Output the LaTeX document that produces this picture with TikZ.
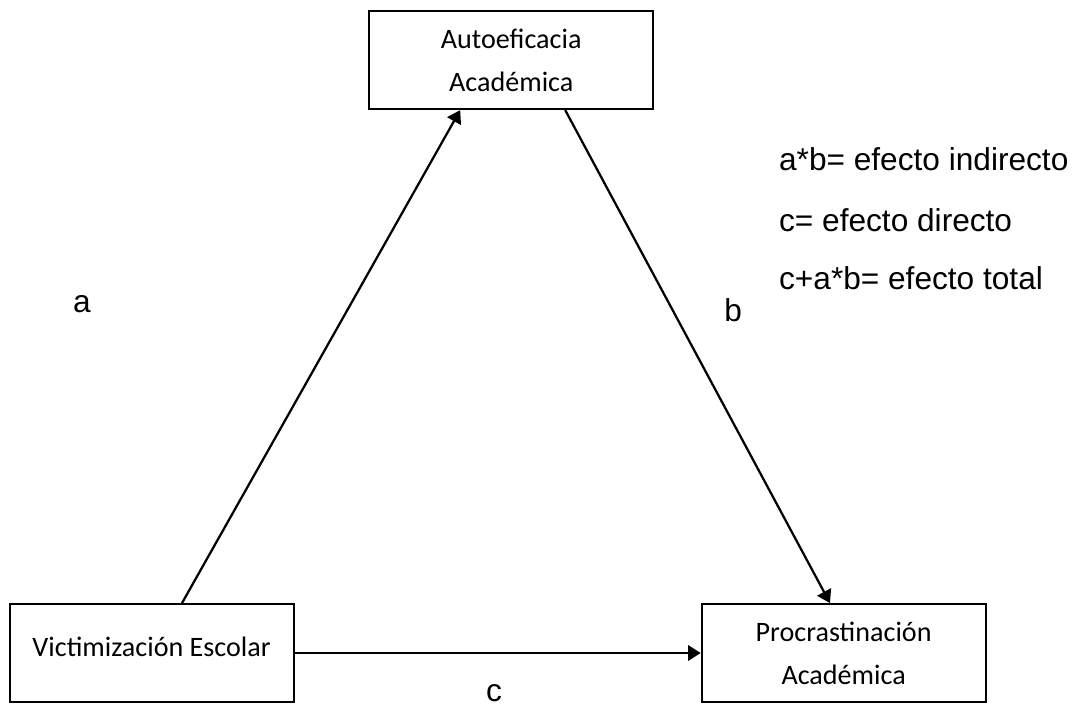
\documentclass[tikz,border=0pt]{standalone}
\usepackage{fontspec}
\setmainfont{Liberation Sans}
\newfontfamily\boxfont{Carlito}
\usetikzlibrary{arrows.meta, positioning}

\begin{document}
\begin{tikzpicture}[>={Triangle[length=9pt, width=11pt]}, line width=1.6pt,
    varbox/.style={draw, rectangle, line width=1.3pt, minimum width=7.1cm, minimum height=2.45cm, align=center, font=\boxfont\fontsize{20}{30.5}\selectfont},
    lbl/.style={font=\fontsize{22.5}{27}\selectfont}]

        \useasboundingbox (0,0) rectangle (26.875,17.725);

        \node[varbox] (Auto) at (12.78,16.22) {Autoeficacia\\Académica};
        \node[varbox, text depth=0.3cm] (Victim) at (3.79,1.40) {Victimización Escolar};
        \node[varbox] (Procr) at (21.09,1.40) {Procrastinación\\Académica};

        \draw[->] ([xshift=0.76cm]Victim.north) -- ([xshift=-1.275cm]Auto.south);
        \draw[->] ([xshift=1.35cm]Auto.south) -- ([xshift=-0.34cm]Procr.north);
        \draw[->] (Victim) -- (Procr);

        \node[lbl, anchor=base] (la) at (2.05,9.9) {a};
        \node[lbl, anchor=base] (lb) at (18.33,9.675) {b};
        \node[lbl, anchor=base, inner sep=0pt] (lc) at (12.35,0.2) {c};

        % leyenda
        \node[lbl, anchor=base west, inner sep=0pt] (ind) at (19.45,13.45) {a*b= efecto indirecto};
        \node[lbl, anchor=base west, inner sep=0pt] (dir) at (19.45,11.925) {c= efecto directo};
        \node[lbl, anchor=base west, inner sep=0pt] (tot) at (19.45,10.475) {c+a*b= efecto total};
    \end{tikzpicture}
\end{document}
